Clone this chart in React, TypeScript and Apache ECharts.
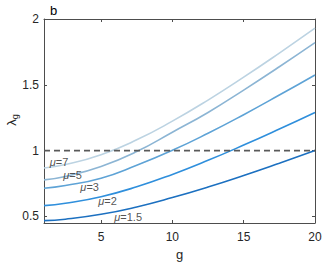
import React, { useEffect, useRef } from "react";
import * as echarts from "echarts";

const gValues = [1, 2.5, 5, 7.5, 10, 12.5, 15, 17.5, 20];
const mu7 = [0.868, 0.894, 0.969, 1.082, 1.224, 1.384, 1.558, 1.741, 1.93];
const mu5 = [0.778, 0.804, 0.88, 0.993, 1.14, 1.29, 1.46, 1.637, 1.82];
const mu3 = [0.714, 0.735, 0.79, 0.888, 1.002, 1.132, 1.273, 1.422, 1.575];
const mu2 = [0.582, 0.6, 0.65, 0.725, 0.819, 0.926, 1.042, 1.164, 1.29];
const mu15 = [0.468, 0.479, 0.516, 0.572, 0.643, 0.723, 0.811, 0.904, 1.0];
const seriesNames = ["μ=7", "μ=5", "μ=3", "μ=2", "μ=1.5"];
const seriesColors = ["#bcd3e2", "#8cb5d4", "#5ea3d6", "#2f8fdc", "#1c70c0"];
const labelMu = ["7", "5", "3", "2", "1.5"];
const labelAt = [
  [2.05, 0.91],
  [3.0, 0.817],
  [4.2, 0.726],
  [5.45, 0.62],
  [6.9, 0.495],
];
const xTicks = [5, 10, 15, 20];
const yTicks = [0.5, 1, 1.5, 2];
const refLevel = 1;

export default function App() {
  const ref = useRef<HTMLDivElement>(null);
  useEffect(() => {
    if (!ref.current) return;
    const chart = echarts.init(ref.current, null, { renderer: "svg" });
    const all = [mu7, mu5, mu3, mu2, mu15];
    const axisColor = "#4d4d4d";
    const textColor = "#262626";
    const font = "Liberation Sans, Arial, sans-serif";
    const series: any[] = all.map((vals, i) => ({
      name: seriesNames[i],
      type: "line",
      smooth: true,
      symbol: "none",
      data: gValues.map((g, j) => [g, vals[j]]),
      lineStyle: { color: seriesColors[i], width: 1.6 },
      z: 3,
    }));
    series.push({
      name: "ref",
      type: "line",
      symbol: "none",
      data: [
        [1, refLevel],
        [20, refLevel],
      ],
      lineStyle: { color: "#5a5a5a", width: 1.6, type: [6, 4] },
      z: 4,
    });
    series.push({
      name: "labels",
      type: "scatter",
      symbolSize: 0,
      data: labelAt.map((p, i) => ({
        value: p,
        label: {
          show: true,
          position: "inside",
          formatter: "{m|μ}{t|=" + labelMu[i] + "}",
          rich: {
            m: { fontStyle: "italic", fontSize: 11, color: textColor, fontFamily: font },
            t: { fontSize: 11, color: textColor, fontFamily: font },
          },
        },
      })),
      z: 5,
    });
    const axisCommon = {
      type: "value",
      axisLine: { show: true, lineStyle: { color: axisColor, width: 1 } },
      splitLine: { show: false },
    };
    chart.setOption({
      animation: false,
      backgroundColor: "#ffffff",
      grid: { left: 44, right: 11, top: 19, bottom: 40, containLabel: false },
      xAxis: [
        {
          ...axisCommon,
          min: 1,
          max: 20,
          position: "bottom",
          name: "g",
          nameLocation: "middle",
          nameGap: 25,
          nameTextStyle: { fontSize: 13, color: textColor, fontFamily: font },
          axisTick: { show: true, inside: true, length: 3, customValues: xTicks, lineStyle: { color: axisColor } },
          axisLabel: { show: true, customValues: xTicks, fontSize: 12, color: textColor, fontFamily: font, margin: 8 },
        },
        {
          ...axisCommon,
          min: 1,
          max: 20,
          position: "top",
          axisTick: { show: true, inside: true, length: 3, customValues: xTicks, lineStyle: { color: axisColor } },
          axisLabel: { show: false },
        },
      ],
      yAxis: [
        {
          ...axisCommon,
          min: 0.45,
          max: 2,
          position: "left",
          axisTick: { show: true, inside: true, length: 3, customValues: yTicks, lineStyle: { color: axisColor } },
          axisLabel: {
            show: true,
            customValues: yTicks,
            fontSize: 12,
            color: textColor,
            fontFamily: font,
            margin: 5,
          },
        },
        {
          ...axisCommon,
          min: 0.45,
          max: 2,
          position: "right",
          axisTick: { show: true, inside: true, length: 3, customValues: yTicks, lineStyle: { color: axisColor } },
          axisLabel: { show: false },
        },
      ],
      graphic: [
        {
          type: "text",
          left: 50,
          top: 4,
          style: { text: "b", fontSize: 13, fill: "#000", fontFamily: font },
        },
        {
          type: "text",
          x: 11,
          y: 120,
          rotation: Math.PI / 2,
          style: {
            text: "{l|λ}{s|g}",
            align: "center",
            verticalAlign: "middle",
            fill: textColor,
            rich: {
              l: { fontSize: 13, fill: textColor, fontFamily: font },
              s: { fontSize: 9, fill: textColor, fontFamily: font, padding: [7, 0, 0, 0] },
            },
          },
        },
      ],
      series,
    });
    return () => chart.dispose();
  }, []);
  return (
    <div
      ref={ref}
      style={{ position: "fixed", left: 0, top: 0, width: 326, height: 266 }}
    />
  );
}
